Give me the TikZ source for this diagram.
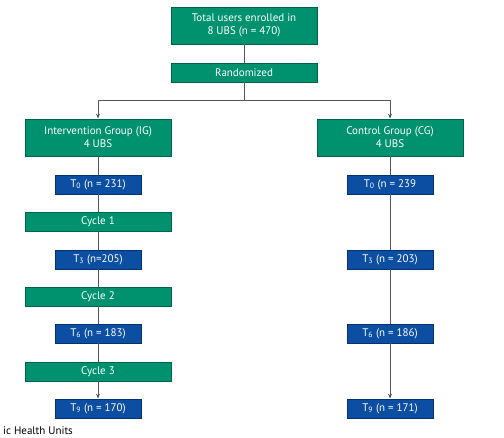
\documentclass[tikz,border=0pt]{standalone}
\usepackage{fontspec}
\setmainfont{PT Sans}
\usepackage{xcolor}
\usepackage{tikz}
\usetikzlibrary{arrows.meta,positioning}
\definecolor{vertEtude}{RGB}{0,146,111}
\definecolor{vertBord}{RGB}{0,100,75}
\definecolor{bleuTemps}{RGB}{11,78,162}
\definecolor{bleuBord}{RGB}{5,50,110}
\definecolor{gris}{RGB}{85,85,85}

\begin{document}
\begin{tikzpicture}[x=1pt,y=-1pt,font=\fontsize{11}{13}\selectfont,
  grp/.style={rectangle,minimum width=146pt,minimum height=37pt,inner sep=0pt,
              align=center,text=white,draw=vertBord,line width=0.8pt,fill=vertEtude},
  bar/.style={rectangle,minimum width=146pt,minimum height=19pt,inner sep=0pt,
              align=center,text=white,draw=vertBord,line width=0.8pt,fill=vertEtude},
  tps/.style={rectangle,minimum width=86pt,minimum height=19pt,inner sep=0pt,
              align=center,text=white,draw=bleuBord,line width=0.8pt,fill=bleuTemps},
  lien/.style={gris,line width=0.8pt},
  fl/.style={gris,line width=0.8pt,-{Stealth[length=5pt,width=4pt]}}]

  \useasboundingbox (0,0) rectangle (504,438);

  % Haut
  \node[grp] (total) at (244,25.5) {Total users enrolled in\\8 UBS (n = 470)};
  \node[bar] (rand)  at (244,72.5) {Randomized};
  \coordinate (split) at (244,100);

  % Groupes
  \node[grp] (ig) at (98,137.5)  {Intervention Group (IG)\\4 UBS};
  \node[grp] (cg) at (390,137.5) {Control Group (CG)\\4 UBS};

  % Colonne IG
  \node[tps] (it0) at (98,184.5) {T\textsubscript{0} (n = 231)};
  \node[bar] (c1)  at (98,221.5) {Cycle 1};
  \node[tps] (it3) at (98,259.5) {T\textsubscript{3} (n=205)};
  \node[bar] (c2)  at (98,296.5) {Cycle 2};
  \node[tps] (it6) at (98,333.5) {T\textsubscript{6} (n = 183)};
  \node[bar] (c3)  at (98,371.5) {Cycle 3};
  \node[tps] (it9) at (98,408.5) {T\textsubscript{9} (n = 170)};

  % Colonne CG
  \node[tps] (ct0) at (390,184.5) {T\textsubscript{0} (n = 239};
  \node[tps] (ct3) at (390,259.5) {T\textsubscript{3} (n = 203)};
  \node[tps] (ct6) at (390,333.5) {T\textsubscript{6} (n = 186)};
  \node[tps] (ct9) at (390,408.5) {T\textsubscript{9} (n = 171)};

  % Legende
  \node[anchor=south west,inner sep=0pt] (leg) at (3,435) {ic Health Units};

  % Liens
  \draw[lien] (total) -- (rand);
  \draw[lien] (rand) -- (split);
  \draw[fl] (split) -| (ig);
  \draw[fl] (split) -| (cg);
  \draw[lien] (ig) -- (it0) -- (c1) -- (it3) -- (c2) -- (it6) -- (c3);
  \draw[fl] (c3) -- (it9);
  \draw[lien] (cg) -- (ct0) -- (ct3) -- (ct6);
  \draw[fl] (ct6) -- (ct9);
\end{tikzpicture}
\end{document}
